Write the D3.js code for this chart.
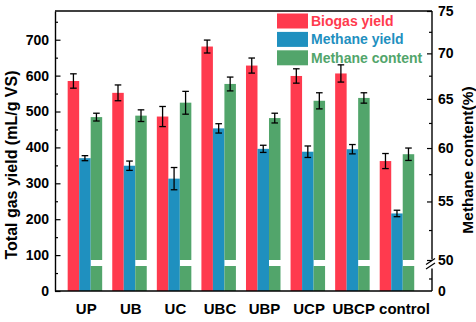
<!DOCTYPE html>
<html><head><meta charset="utf-8">
<script src="https://cdn.jsdelivr.net/npm/d3@7"></script>
<style>
html,body{margin:0;padding:0;background:#fff;}
svg{display:block;font-family:"Liberation Sans",Arial,sans-serif;font-weight:bold;}
</style></head>
<body>
<svg id="chart" width="476" height="322"></svg>
<script>
const categories = ["UP","UB","UC","UBC","UBP","UCP","UBCP","control"];
const seriesNames = ["Biogas yield","Methane yield","Methane content"];
const biogasYield = [585, 552, 486, 681, 628, 599, 606, 362];
const biogasErr = [20, 22, 28, 18, 21, 20, 24, 21];
const methaneYield = [370, 349, 313, 453, 396, 388, 395, 216];
const methaneYieldErr = [7, 13, 31, 13, 10, 16, 13, 9];
const methaneContent = [63.1, 63.25, 64.6, 66.6, 63.0, 64.8, 65.1, 59.4];
const methaneContentErr = [0.4, 0.6, 1.2, 0.75, 0.5, 0.85, 0.55, 0.6];
const leftTicks = [0,100,200,300,400,500,600,700];
const rightTicksUpper = [50,55,60,65,70,75];
const rightTicksLower = [0];
const colors = ["#FF3A4E","#1F90BF","#52A56B"];

const svg = d3.select("#chart");
const L = 55, R = 432, T = 11, B = 291;

const x0 = d3.scaleBand().domain(categories).range([54.3, 427.6]).paddingInner(0.226).paddingOuter(0.3);
const x1 = d3.scaleBand().domain(seriesNames).range([0, x0.bandwidth()]).padding(0);
const yL = d3.scaleLinear().domain([0, 780]).range([B, T]);
const yRU = d3.scaleLog().domain([50, 75]).range([260, T]);
const yRL = d3.scaleLinear().domain([0, 50]).range([B, 266]);

const gBars = svg.append("g");
categories.forEach((c, i) => {
  const gx = x0(c);
  const vals = [[biogasYield[i], biogasErr[i]], [methaneYield[i], methaneYieldErr[i]]];
  vals.forEach((v, k) => {
    const bx = gx + x1(seriesNames[k]);
    gBars.append("rect").attr("x", bx).attr("y", yL(v[0])).attr("width", x1.bandwidth())
      .attr("height", yL(0) - yL(v[0])).attr("fill", colors[k]);
  });
  // Methane content (broken axis)
  const bx = gx + x1(seriesNames[2]);
  gBars.append("rect").attr("x", bx).attr("y", yRL(50)).attr("width", x1.bandwidth())
    .attr("height", yRL(0) - yRL(50)).attr("fill", colors[2]);
  gBars.append("rect").attr("x", bx).attr("y", yRU(methaneContent[i])).attr("width", x1.bandwidth())
    .attr("height", yRU(50) - yRU(methaneContent[i])).attr("fill", colors[2]);
});

// error bars
const gErr = svg.append("g").attr("stroke", "#000").attr("stroke-width", 1.3).attr("fill", "none");
function errBar(cx, yTop, yBot) {
  gErr.append("line").attr("x1", cx).attr("x2", cx).attr("y1", yTop).attr("y2", yBot);
  gErr.append("line").attr("x1", cx - 3.3).attr("x2", cx + 3.3).attr("y1", yTop).attr("y2", yTop);
  gErr.append("line").attr("x1", cx - 3.3).attr("x2", cx + 3.3).attr("y1", yBot).attr("y2", yBot);
}
categories.forEach((c, i) => {
  const gx = x0(c), w = x1.bandwidth();
  let cx = gx + x1(seriesNames[0]) + w / 2;
  errBar(cx, yL(biogasYield[i] + biogasErr[i]), yL(biogasYield[i] - biogasErr[i]));
  cx = gx + x1(seriesNames[1]) + w / 2;
  errBar(cx, yL(methaneYield[i] + methaneYieldErr[i]), yL(methaneYield[i] - methaneYieldErr[i]));
  cx = gx + x1(seriesNames[2]) + w / 2;
  errBar(cx, yRU(methaneContent[i] + methaneContentErr[i]), yRU(methaneContent[i] - methaneContentErr[i]));
});

// Left axis
const axL = svg.append("g").attr("transform", `translate(${L},0)`)
  .call(d3.axisLeft(yL).tickValues(leftTicks).tickSize(-5.5).tickSizeOuter(0).tickPadding(6));
const minorL = d3.range(50, 780, 100);
svg.append("g").attr("transform", `translate(${L},0)`)
  .call(d3.axisLeft(yL).tickValues(minorL).tickSize(-3).tickFormat(""))
  .call(g => g.select(".domain").remove());

// Right axis upper (log)
const axRU = svg.append("g").attr("transform", `translate(${R},0)`)
  .call(d3.axisRight(yRU).tickValues(rightTicksUpper).tickFormat(d3.format("d")).tickSize(-5).tickSizeOuter(0).tickPadding(6));
axRU.select(".domain").remove();
const minorRU = d3.range(52.5, 75, 5);
svg.append("g").attr("transform", `translate(${R},0)`)
  .call(d3.axisRight(yRU).tickValues(minorRU).tickSize(-3).tickFormat(""))
  .call(g => g.select(".domain").remove());
const axRL = svg.append("g").attr("transform", `translate(${R},0)`)
  .call(d3.axisRight(yRL).tickValues(rightTicksLower).tickFormat(d3.format("d")).tickSize(0).tickPadding(6));
axRL.select(".domain").remove();
svg.append("g").attr("transform", `translate(${R},0)`)
  .call(d3.axisRight(yRL).tickValues([25]).tickSize(-3).tickFormat(""))
  .call(g => g.select(".domain").remove());

// Bottom axis
const axB = svg.append("g").attr("transform", `translate(0,${B})`)
  .call(d3.axisBottom(x0).tickSize(0).tickPadding(12));
axB.select(".domain").remove();

// frame lines
const gF = svg.append("g").attr("stroke", "#000").attr("stroke-width", 1.4).attr("fill", "none");
gF.append("line").attr("x1", L).attr("x2", R).attr("y1", T).attr("y2", T);
gF.append("line").attr("x1", L).attr("x2", R).attr("y1", B).attr("y2", B);
gF.append("line").attr("x1", R).attr("x2", R).attr("y1", T).attr("y2", 259.5);
gF.append("line").attr("x1", R).attr("x2", R).attr("y1", 268.5).attr("y2", B);
// break marks
gF.append("line").attr("x1", R - 6).attr("x2", R + 3).attr("y1", 264.5).attr("y2", 258.5).attr("stroke-width", 1.1);
gF.append("line").attr("x1", R - 6).attr("x2", R + 3).attr("y1", 269).attr("y2", 263).attr("stroke-width", 1.1);

svg.selectAll(".domain").attr("stroke-width", 1.4);
svg.selectAll(".tick line").attr("stroke-width", 1.2);
const fam = "Liberation Sans, Arial, sans-serif";
axL.selectAll("text").attr("font-size", 14).attr("font-weight", "bold").attr("font-family", fam);
axRU.selectAll("text").attr("font-size", 14).attr("font-weight", "bold").attr("font-family", fam);
axRL.selectAll("text").attr("font-size", 14).attr("font-weight", "bold").attr("font-family", fam);
axB.selectAll("text").attr("font-size", 15).attr("font-weight", "bold").attr("font-family", fam).attr("fill", "#000")
  .attr("dx", d => d === "control" ? 7.5 : 1.3);

// Axis titles
svg.append("text").attr("transform", "translate(17,165) rotate(-90)").attr("text-anchor", "middle")
  .attr("font-size", 16).attr("fill", "#000").text("Total gas yield (mL/g VS)");
svg.append("text").attr("transform", "translate(473,160) rotate(-90)").attr("text-anchor", "middle")
  .attr("font-size", 15.5).attr("fill", "#000").text("Methane content(%)");

// Legend
const leg = svg.append("g").attr("transform", "translate(277,13.5)");
seriesNames.forEach((s, k) => {
  const g = leg.append("g").attr("transform", `translate(0,${k * 18.4})`);
  g.append("rect").attr("width", 31).attr("height", 15).attr("fill", colors[k]);
  g.append("text").attr("x", 34).attr("y", 12.5).attr("font-size", 14).attr("fill", colors[k]).text(s);
});
</script>
</body></html>
